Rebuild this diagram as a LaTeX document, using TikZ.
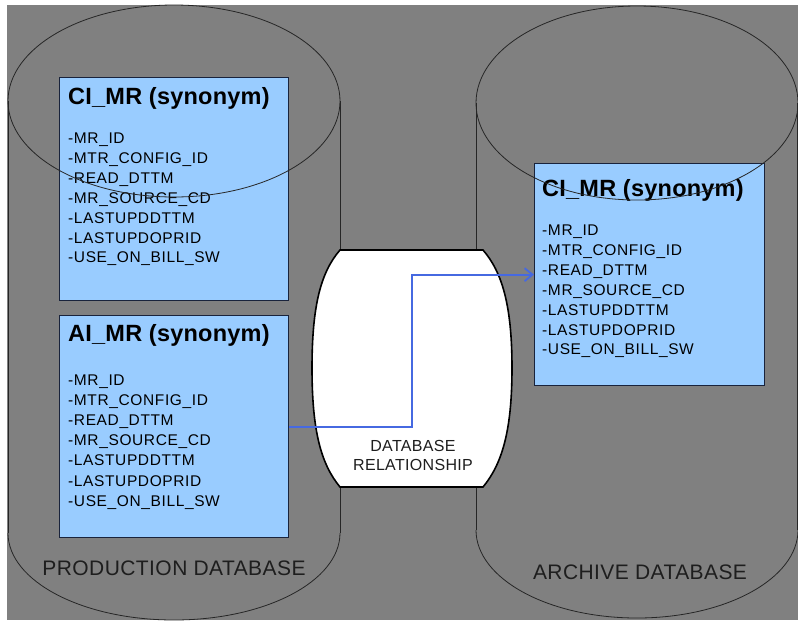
\documentclass[tikz,border=0pt]{standalone}
\usepackage{fontspec}
\setmainfont{Liberation Sans}
\usetikzlibrary{arrows.meta}
\definecolor{bggray}{RGB}{128,128,128}
\definecolor{boxblue}{RGB}{153,204,255}
\definecolor{boxline}{RGB}{25,35,60}
\definecolor{arrowblue}{RGB}{70,105,225}
\definecolor{labelgray}{RGB}{30,30,30}
\begin{document}
\begin{tikzpicture}[x=1pt,y=-1pt,
  tablebox/.style={draw=boxline, line width=1.3pt, fill=boxblue, anchor=north west, inner sep=0pt},
  titletext/.style={anchor=base west, inner sep=0pt, font=\fontsize{23.5}{24}\selectfont\bfseries\addfontfeature{LetterSpace=1}},
  fieldtext/.style={anchor=base west, inner sep=0pt, font=\fontsize{15.5}{16}\selectfont\addfontfeature{LetterSpace=4}},
  dbline/.style={draw=black!85, line width=0.8pt},
  dblabel/.style={anchor=base, inner sep=0pt, text=labelgray, font=\fontsize{21}{22}\selectfont\addfontfeature{LetterSpace=2}},
  rellabel/.style={anchor=base, inner sep=0pt, text=labelgray, font=\fontsize{16}{17}\selectfont\addfontfeature{LetterSpace=2}},
  barrelshape/.style={draw=black, line width=1.6pt, fill=white},
  relarrow/.style={draw=arrowblue, line width=1.8pt, -{Straight Barb[length=8pt,width=13pt]}}
]
\useasboundingbox (0,0) rectangle (798,622);
\fill[white] (0,0) rectangle (798,622);
\fill[bggray] (7,5) rectangle (798,620);

% cylinder sides and bottoms
\draw[dbline] (8,101) -- (8,533);
\draw[dbline] (340,101) -- (340,533);
\begin{scope}
  \clip (0,533) rectangle (798,622);
  \draw[dbline] (174,533) ellipse [x radius=166, y radius=87];
\end{scope}
\draw[dbline] (476,103) -- (476,530);
\draw[dbline] (797.5,103) -- (797.5,530);
\begin{scope}
  \clip (0,530) rectangle (798,622);
  \draw[dbline] (637,530) ellipse [x radius=161, y radius=88];
\end{scope}

% barrel
\path[barrelshape] (340,250) -- (483,250)
  .. controls (502,272) and (512,305) .. (512,368)
  .. controls (512,431) and (502,464) .. (483,487)
  -- (340,487)
  .. controls (321,464) and (312,431) .. (312,368)
  .. controls (312,305) and (321,272) .. (340,250) -- cycle;
\node[rellabel] (rel1) at (413,451) {DATABASE};
\node[rellabel] (rel2) at (413,470) {RELATIONSHIP};

% boxes
\node[tablebox, minimum width=229pt, minimum height=223pt] (ci) at (59,77) {};
\node[tablebox, minimum width=229pt, minimum height=222pt] (ai) at (59,315) {};
\node[tablebox, minimum width=230pt, minimum height=222pt] (ar) at (534,163) {};

\node[titletext] (ci-t) at (68,104) {CI\_MR (synonym)};
\node[titletext] (ai-t) at (68,341) {AI\_MR (synonym)};
\node[titletext] (ar-t) at (542,196) {CI\_MR (synonym)};

\foreach \t [count=\i] in {-MR\_ID,-MTR\_CONFIG\_ID,-READ\_DTTM,-MR\_SOURCE\_CD,-LASTUPDDTTM,-LASTUPDOPRID,-USE\_ON\_BILL\_SW}{
  \node[fieldtext] (ci-f\i) at (68,{143.5+19.9*(\i-1)}) {\t};
  \node[fieldtext] (ai-f\i) at (68,{385.5+20.1*(\i-1)}) {\t};
  \node[fieldtext] (ar-f\i) at (542,{235.5+19.9*(\i-1)}) {\t};
}

% cylinder tops (drawn over the boxes)
\draw[dbline] (174,101) ellipse [x radius=166, y radius=96];
\draw[dbline] (637,103) ellipse [x radius=161, y radius=97];

% relationship arrow
\coordinate (mid) at (412,350);
\draw[relarrow] (ai.east) -| (mid) |- (ar.west);

% database labels
\node[dblabel] (prod) at (174,575.5) {PRODUCTION DATABASE};
\node[dblabel] (arch) at (640,579.5) {ARCHIVE DATABASE};
\end{tikzpicture}
\end{document}
